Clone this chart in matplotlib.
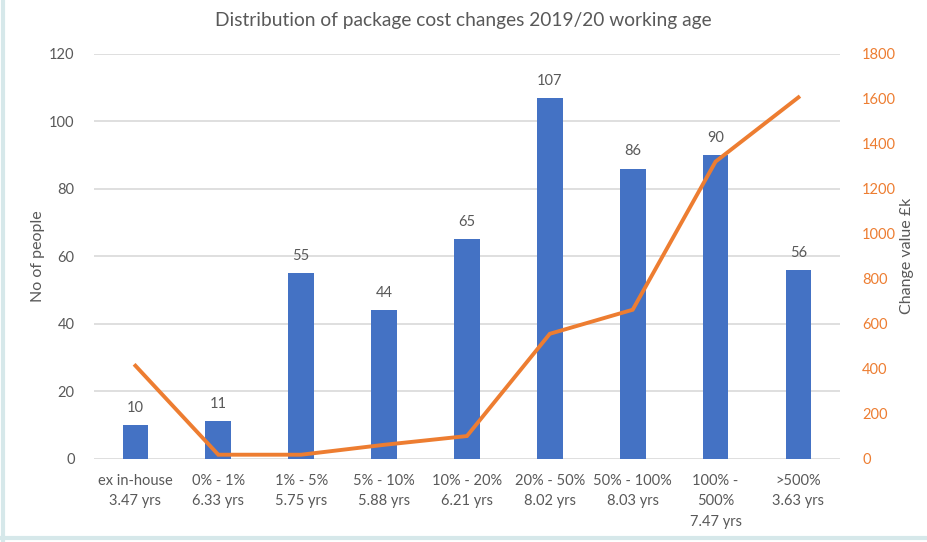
import numpy as np
import matplotlib
matplotlib.use("Agg")
import matplotlib.pyplot as plt

categories = ["ex in-house\n3.47 yrs", "0% - 1%\n6.33 yrs", "1% - 5%\n5.75 yrs",
              "5% - 10%\n5.88 yrs", "10% - 20%\n6.21 yrs", "20% - 50%\n8.02 yrs",
              "50% - 100%\n8.03 yrs", "100% -\n500%\n7.47 yrs", ">500%\n3.63 yrs"]
people = [10, 11, 55, 44, 65, 107, 86, 90, 56]
change_value = [413, 17, 17, 61, 100, 555, 662, 1321, 1607]

BLUE = "#4472C4"
ORANGE = "#ED7D31"
GREY = "#595959"
GRID = "#D9D9D9"

plt.rcParams["font.family"] = ["Lato", "DejaVu Sans"]

fig = plt.figure(figsize=(9.27, 5.42), dpi=100)
ax = fig.add_axes([0.1014, 0.154, 0.8046, 0.7464])
ax2 = ax.twinx()

x = np.arange(len(categories))
ax.bar(x, people, width=0.31, color=BLUE, zorder=2)
for xi, v in zip(x, people):
    ax.text(xi, v + 3, str(v), ha="center", va="bottom", fontsize=10.5, color=GREY)

ax2.plot(x, change_value, color=ORANGE, linewidth=2.8, solid_joinstyle="miter", zorder=3)

ax.set_xlim(-0.5, len(categories) - 0.5)
ax.set_ylim(0, 120)
ax.set_yticks(range(0, 121, 20))
ax2.set_ylim(0, 1800)
ax2.set_yticks(range(0, 1801, 200))

ax.set_xticks(x)
ax.set_xticklabels(categories, fontsize=10.5, color=GREY, linespacing=1.6)
ax.yaxis.grid(True, color=GRID, linewidth=1.2, zorder=0)
ax.set_axisbelow(True)

ax.tick_params(axis="both", length=0, labelsize=10.5, labelcolor=GREY)
ax.tick_params(axis="y", pad=14)
ax.tick_params(axis="x", pad=11)
ax2.tick_params(axis="y", length=0, labelsize=10.5, labelcolor=ORANGE, pad=16)

for a in (ax, ax2):
    for s in a.spines.values():
        s.set_visible(False)

ax.set_ylabel("No of people", fontsize=11.5, color=GREY)
ax.yaxis.set_label_coords(-0.066, 0.5)
ax2.set_ylabel("Change value £k", fontsize=11.5, color=GREY)
ax2.yaxis.set_label_coords(1.080, 0.5)
fig.text(0.5, 0.962, "Distribution of package cost changes 2019/20 working age",
         ha="center", va="center", fontsize=13.8, color=GREY)

# thin frame remnants along the left and bottom edges
fig.add_artist(plt.Line2D([0.003, 0.003], [0.0, 1.0], color="#D6E8EA", linewidth=3))
fig.add_artist(plt.Line2D([0.0, 1.0], [0.008, 0.008], color="#D6E8EA", linewidth=3))

fig.savefig("out.png", dpi=100)
